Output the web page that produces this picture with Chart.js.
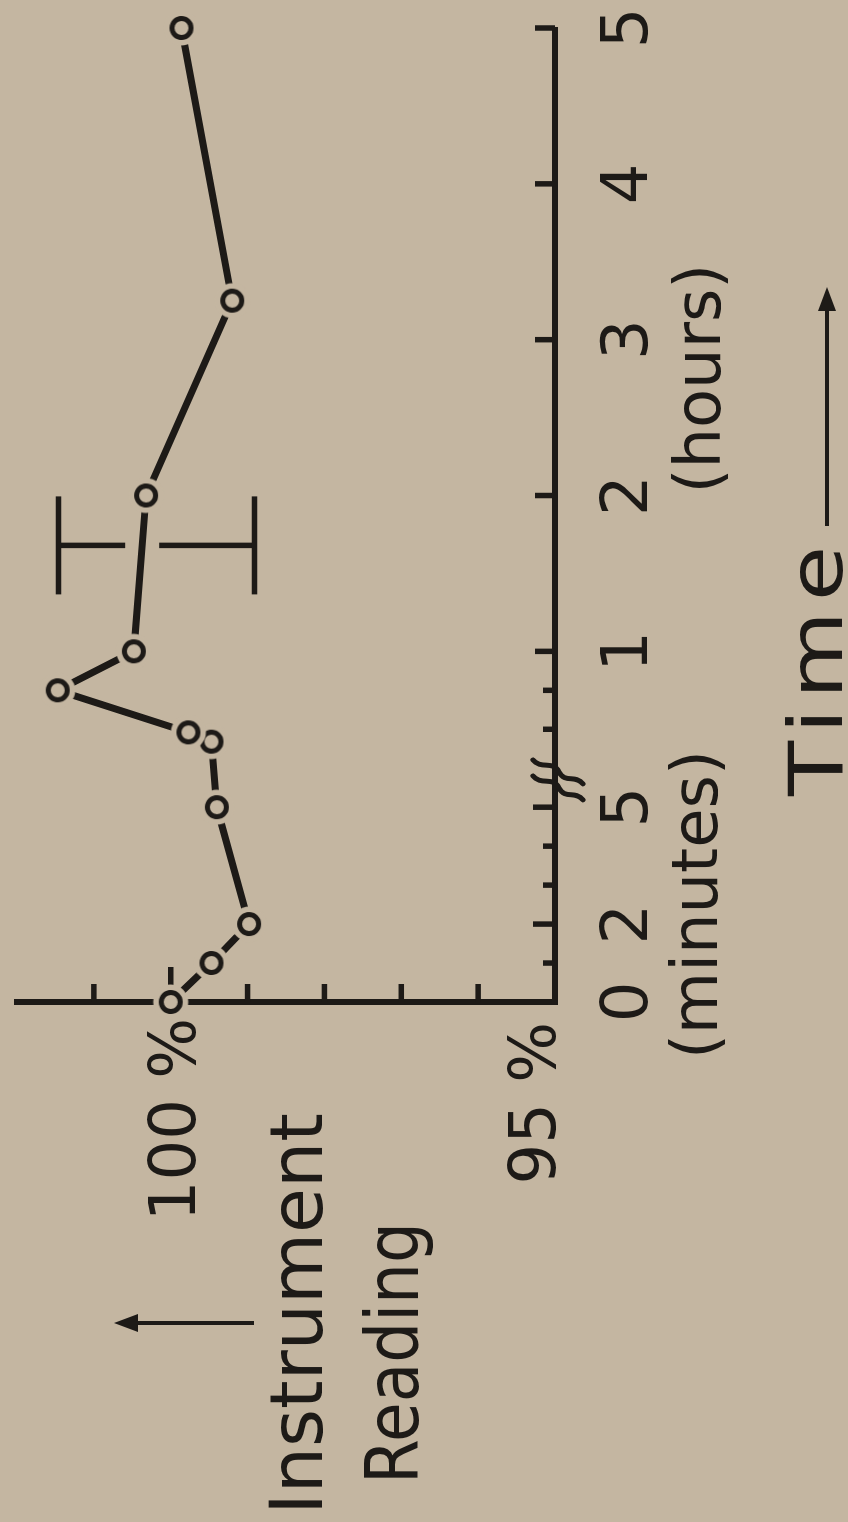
<!DOCTYPE html>
<html>
<head>
<meta charset="utf-8">
<title>Instrument Reading</title>
<script src="https://cdn.jsdelivr.net/npm/chart.js@4.4.0/dist/chart.umd.min.js"></script>
<style>
    html, body { margin: 0; padding: 0; background: #c4b6a1; overflow: hidden; }
    /* the figure is printed sideways, so the whole chart is turned a quarter left */
    #wrap {
        position: absolute; left: 0; top: 0;
        width: 1522px; height: 848px;
        transform-origin: 0 0;
        transform: translateY(1522px) rotate(-90deg);
    }
</style>
</head>
<body>
<div id="wrap"><canvas id="readingChart" width="1522" height="848"></canvas></div>
<script>
var INK = '#1d1a17';
var PAPER = '#c4b6a1';
var FONT = "'DejaVu Sans', sans-serif";

// first minutes (time in minutes)
var minuteTimes = [0, 1, 2, 5];
var minuteReadings = [100.0, 99.47, 98.98, 99.40];

// later on (time in hours)
var hourTimes = [0.42, 0.48, 0.75, 1, 2, 3.25, 5];
var hourReadings = [99.47, 99.77, 101.47, 100.48, 100.32, 99.20, 99.86];

// ticks and labels
var minuteLabelAt = [0, 2, 5];
var minuteMinorTicks = [1, 3, 4];
var hourLabelAt = [1, 2, 3, 4, 5];
var hourMinorTicks = [0.5, 0.75];
var readingTicks = [96, 97, 98, 99, 100, 101];
var readingLabelAt = [100, 95];
var readingLabels = ['100 %', '95 %'];

var breakAt = 0.175;   // hours
var errorBar = { hours: 1.68, low: 98.91, high: 101.46 };

// broken time axis: 0-5 min stretched, then hours
function fromMinutes(m) { return m / 4; }
function fromHours(h) { return fromMinutes(5) + h; }

var points = [];
for (var i = 0; i < minuteTimes.length; i++) {
    points.push({ x: fromMinutes(minuteTimes[i]), y: minuteReadings[i] });
}
for (var j = 0; j < hourTimes.length; j++) {
    points.push({ x: fromHours(hourTimes[j]), y: hourReadings[j] });
}

function makeMarker() {
    var c = document.createElement('canvas');
    c.width = 38; c.height = 38;
    var g = c.getContext('2d');
    g.fillStyle = PAPER;
    g.beginPath(); g.arc(19, 19, 17.5, 0, 2 * Math.PI); g.fill();
    g.strokeStyle = INK; g.lineWidth = 5;
    g.beginPath(); g.arc(19, 19, 9.5, 0, 2 * Math.PI); g.stroke();
    return c;
}

function seg(ctx, x1, y1, x2, y2) {
    ctx.beginPath(); ctx.moveTo(x1, y1); ctx.lineTo(x2, y2); ctx.stroke();
}

function arrow(ctx, x1, y1, x2, y2) {
    var a = Math.atan2(y2 - y1, x2 - x1);
    seg(ctx, x1, y1, x2 - 10 * Math.cos(a), y2 - 10 * Math.sin(a));
    ctx.beginPath();
    ctx.moveTo(x2, y2);
    ctx.lineTo(x2 - 24 * Math.cos(a) + 9 * Math.sin(a), y2 - 24 * Math.sin(a) - 9 * Math.cos(a));
    ctx.lineTo(x2 - 24 * Math.cos(a) - 9 * Math.sin(a), y2 - 24 * Math.sin(a) + 9 * Math.cos(a));
    ctx.closePath(); ctx.fill();
}

var decorations = {
    id: 'decorations',
    beforeDatasetsDraw: function(chart) {
        var ctx = chart.ctx, xs = chart.scales.x, ys = chart.scales.y, area = chart.chartArea;
        ctx.save();
        ctx.strokeStyle = INK; ctx.fillStyle = INK; ctx.lineWidth = 5.5;

        // ticks point into the plot
        readingTicks.forEach(function(v) {
            var py = ys.getPixelForValue(v);
            seg(ctx, area.left, py, area.left + (v === 100 ? 35 : 18), py);
        });
        minuteLabelAt.concat(minuteMinorTicks).forEach(function(m) {
            if (m === 0) return;
            var px = xs.getPixelForValue(fromMinutes(m));
            seg(ctx, px, area.bottom, px, area.bottom - (minuteLabelAt.indexOf(m) >= 0 ? 22 : 12));
        });
        hourLabelAt.concat(hourMinorTicks).forEach(function(h) {
            var px = xs.getPixelForValue(fromHours(h));
            seg(ctx, px, area.bottom, px, area.bottom - (hourLabelAt.indexOf(h) >= 0 ? 20 : 12));
        });

        // axis break
        var bx = xs.getPixelForValue(fromHours(breakAt)), by = area.bottom;
        ctx.lineWidth = 5;
        ctx.lineCap = 'round';
        [-8, 8].forEach(function(d) {
            ctx.beginPath();
            ctx.moveTo(bx + d + 12, by - 22);
            ctx.bezierCurveTo(bx + d + 2, by - 14, bx + d + 12, by - 2, bx + d, by + 4);
            ctx.bezierCurveTo(bx + d - 12, by + 10, bx + d - 2, by + 20, bx + d - 12, by + 28);
            ctx.stroke();
        });
        ctx.lineCap = 'butt';

        // error bar, broken where the curve passes
        var ex = xs.getPixelForValue(fromHours(errorBar.hours));
        var hi = ys.getPixelForValue(errorBar.high), lo = ys.getPixelForValue(errorBar.low);
        var pts = chart.getDatasetMeta(0).data, cross = (hi + lo) / 2;
        for (var k = 1; k < pts.length; k++) {
            if (pts[k - 1].x <= ex && pts[k].x >= ex) {
                cross = pts[k - 1].y + (pts[k].y - pts[k - 1].y) * (ex - pts[k - 1].x) / (pts[k].x - pts[k - 1].x);
            }
        }
        ctx.lineWidth = 5.5;
        seg(ctx, ex, hi, ex, cross - 17);
        seg(ctx, ex, cross + 17, ex, lo);
        seg(ctx, ex - 49, hi, ex + 49, hi);
        seg(ctx, ex - 49, lo, ex + 49, lo);
        ctx.restore();
    },
    afterDraw: function(chart) {
        var ctx = chart.ctx, xs = chart.scales.x, ys = chart.scales.y, area = chart.chartArea;
        ctx.save();
        ctx.fillStyle = INK; ctx.strokeStyle = INK;
        ctx.font = '64px ' + FONT;
        ctx.textAlign = 'center'; ctx.textBaseline = 'alphabetic';

        minuteLabelAt.forEach(function(m) {
            ctx.fillText(String(m), xs.getPixelForValue(fromMinutes(m)), area.bottom + 92);
        });
        hourLabelAt.forEach(function(h) {
            ctx.fillText(String(h), xs.getPixelForValue(fromHours(h)), area.bottom + 92);
        });
        ctx.fillText('(minutes)', xs.getPixelForValue(fromMinutes(2.5)), area.bottom + 162);
        ctx.fillText('(hours)', xs.getPixelForValue(fromHours(2.75)), area.bottom + 165);

        ctx.textAlign = 'right';
        ctx.fillText(readingLabels[0], area.left - 16, ys.getPixelForValue(readingLabelAt[0]) + 24);
        ctx.fillText(readingLabels[1], area.left - 20, ys.getPixelForValue(readingLabelAt[1]));

        // axis titles
        ctx.textAlign = 'center';
        ctx.font = '73px ' + FONT;
        ctx.fillText('Instrument', 208, 322);
        ctx.fillText('Reading', 169, 418, 262);
        ctx.lineWidth = 4;
        arrow(ctx, 199, 254, 199, 114);

        // wide lettering for "Time"
        ctx.save();
        ctx.translate(726, 842);
        ctx.scale(1.22, 1);
        ctx.textAlign = 'left';
        ctx.font = '74px ' + FONT;
        if ('letterSpacing' in ctx) ctx.letterSpacing = '8px';
        ctx.fillText('Time', 0, 0);
        ctx.restore();
        arrow(ctx, 996, 827, 1235, 827);
        ctx.restore();
    }
};

var ctx = document.getElementById('readingChart').getContext('2d');
var readingChart = new Chart(ctx, {
    type: 'line',
    data: {
        datasets: [{
            label: 'Instrument reading',
            data: points,
            borderColor: INK,
            borderWidth: 7,
            pointStyle: makeMarker(),
            pointRadius: 10,
            tension: 0,
            clip: false
        }]
    },
    options: {
        responsive: false,
        animation: false,
        events: [],
        layout: { padding: { left: 520, right: 28, top: 12, bottom: 293 } },
        plugins: { legend: { display: false }, tooltip: { enabled: false } },
        scales: {
            x: {
                type: 'linear', min: 0, max: fromHours(5),
                ticks: { display: false },
                grid: { display: false, drawTicks: false },
                border: { display: true, color: INK, width: 6 }
            },
            y: {
                type: 'linear', min: 95, max: 102,
                ticks: { display: false },
                grid: { display: false, drawTicks: false },
                border: { display: true, color: INK, width: 6 }
            }
        }
    },
    plugins: [decorations]
});
</script>
</body>
</html>
